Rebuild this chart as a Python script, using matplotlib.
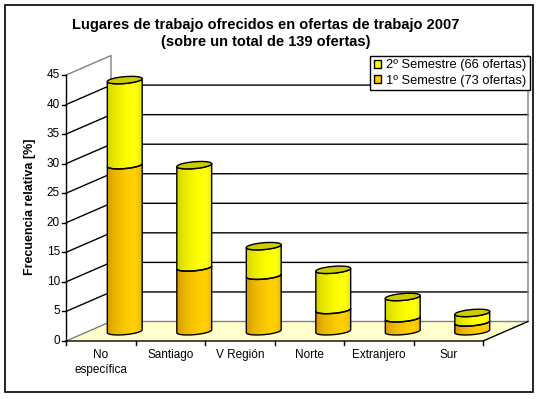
import numpy as np
import matplotlib
matplotlib.use('Agg')
import matplotlib.pyplot as plt
from matplotlib.patches import Polygon, Patch, Rectangle
from matplotlib.colors import LinearSegmentedColormap

# datos
categorias = ['No\nespecífica', 'Santiago', 'V Región', 'Norte', 'Extranjero', 'Sur']
sem1 = [28.1, 10.8, 9.4, 3.6, 2.2, 1.5]
sem2 = [14.4, 17.3, 5.0, 6.8, 3.6, 1.6]
ticks_y = [0, 5, 10, 15, 20, 25, 30, 35, 40, 45]
leyenda = ['2º Semestre (66 ofertas)', '1º Semestre (73 ofertas)']
titulo = 'Lugares de trabajo ofrecidos en ofertas de trabajo 2007\n(sobre un total de 139 ofertas)'
ylabel = 'Frecuencia relativa [%]'

plt.rcParams['font.family'] = ['Liberation Sans', 'DejaVu Sans']

W, H, DPI = 539, 399, 100
X0, Y0 = 66, 58          # origen del eje (px desde izq / abajo)
SX, SY = 69.5, 5.91      # px por unidad
DX, DY = 45 / SX, 19.5 / SY   # profundidad 3D en unidades de datos
YMAX = ticks_y[-1]
n = len(categorias)

fig = plt.figure(figsize=(W / DPI, H / DPI), dpi=DPI)
ax = fig.add_axes([0, 0, 1, 1])
ax.axis('off')

# piso
piso = Polygon([(0, 0), (n, 0), (n + DX, DY), (DX, DY)], closed=True,
               facecolor='#FFFFCC', edgecolor='none', zorder=1)
ax.add_patch(piso)
# pared del fondo
pared = Polygon([(DX, DY), (n + DX, DY), (n + DX, YMAX + DY), (DX, YMAX + DY)],
                closed=True, facecolor='white', edgecolor='none', zorder=1)
ax.add_patch(pared)

# grilla
for v in ticks_y[1:-1]:
    ax.plot([0, DX, n + DX], [v, v + DY, v + DY], color='black', lw=1, zorder=2)
gris = '#808080'
ax.plot([0, DX, n + DX, n + DX], [0, DY, DY, YMAX + DY], color=gris, lw=1, zorder=2)
ax.plot([0, DX, DX], [YMAX, YMAX + DY, DY], color=gris, lw=1, zorder=2)

# ejes
ax.plot([0, 0], [0, YMAX], color='black', lw=1, zorder=3)
ax.plot([0, n, n + DX], [0, 0, DY], color='black', lw=1, zorder=3)
for v in ticks_y:
    ax.plot([-4 / SX, 0], [v, v], color='black', lw=1, zorder=3)
    ax.text(-6 / SX, v, str(v), ha='right', va='center', fontsize=8.5)
for i in range(n + 1):
    ax.plot([i, i], [0, -4 / SY], color='black', lw=1, zorder=3)
for i, c in enumerate(categorias):
    ax.text(i + 0.5, -8 / SY, c, ha='center', va='top', fontsize=8.5,
            linespacing=1.3)

# cilindros
R, B, TH = 17.5, 3.4, np.deg2rad(5)


def elipse(cx, cy, t):
    px = R * np.cos(t) * np.cos(TH) - B * np.sin(t) * np.sin(TH)
    py = R * np.cos(t) * np.sin(TH) + B * np.sin(t) * np.cos(TH)
    return np.column_stack([cx + px / SX, cy + py / SY])


cmap1 = LinearSegmentedColormap.from_list('nar', [(0, '#D49C00'), (0.2, '#E8B400'),
                                                  (0.6, '#FFCC00'), (0.85, '#FFD000'),
                                                  (1, '#E8B800')])
cmap2 = LinearSegmentedColormap.from_list('ama', [(0, '#D4D400'), (0.2, '#E8E800'),
                                                  (0.6, '#FFFF00'), (0.85, '#FFFF10'),
                                                  (1, '#EAEA00')])
grad = np.linspace(0, 1, 64).reshape(1, -1)
tf = np.linspace(np.pi, 2 * np.pi, 60)
tt = np.linspace(0, 2 * np.pi, 120)

for i in range(n):
    cx = i + 0.5 + DX / 2 + 1.5 / SX
    base = DY / 2
    tramos = [(base, base + sem1[i], cmap1),
              (base + sem1[i], base + sem1[i] + sem2[i], cmap2)]
    for y0, y1, cm in tramos:
        pts = np.vstack([elipse(cx, y1, tf), elipse(cx, y0, tf[::-1])])
        cuerpo = Polygon(pts, closed=True, facecolor='none', edgecolor='black',
                         lw=1, zorder=6)
        ax.add_patch(cuerpo)
        im = ax.imshow(grad, cmap=cm, aspect='auto', zorder=5,
                       extent=[cx - R / SX, cx + R / SX, y0 - 5 / SY, y1 + 5 / SY])
        im.set_clip_path(cuerpo)
    tope = Polygon(elipse(cx, base + sem1[i] + sem2[i], tt), closed=True,
                   facecolor='#CCCC00', edgecolor='black', lw=1, zorder=7)
    ax.add_patch(tope)

ax.set_xlim(-X0 / SX, (W - X0) / SX)
ax.set_ylim(-Y0 / SY, (H - Y0) / SY)

# textos
fig.text(266 / W, 1 - 33.5 / H, titulo, ha='center', va='center', fontsize=10.5,
         fontweight='bold', linespacing=1.35)
fig.text(30 / W, 1 - 207 / H, ylabel, ha='center', va='center', rotation=90,
         fontsize=9, fontweight='bold')

handles = [Patch(facecolor='#FFFF00', edgecolor='black'),
           Patch(facecolor='#FFCC00', edgecolor='black')]
fig.legend(handles, leyenda, loc='upper right', bbox_to_anchor=(530 / W, 1 - 55.5 / H),
           fancybox=False, edgecolor='black', framealpha=1, fontsize=9.3,
           handlelength=0.55, handleheight=0.55, handletextpad=0.35, borderpad=0.3,
           labelspacing=0.25, borderaxespad=0)

fig.add_artist(Rectangle((5 / W, 7 / H), 528 / W, 387 / H, transform=fig.transFigure,
                         fill=False, edgecolor='black', lw=1.2))

fig.savefig('out.png', dpi=DPI)
